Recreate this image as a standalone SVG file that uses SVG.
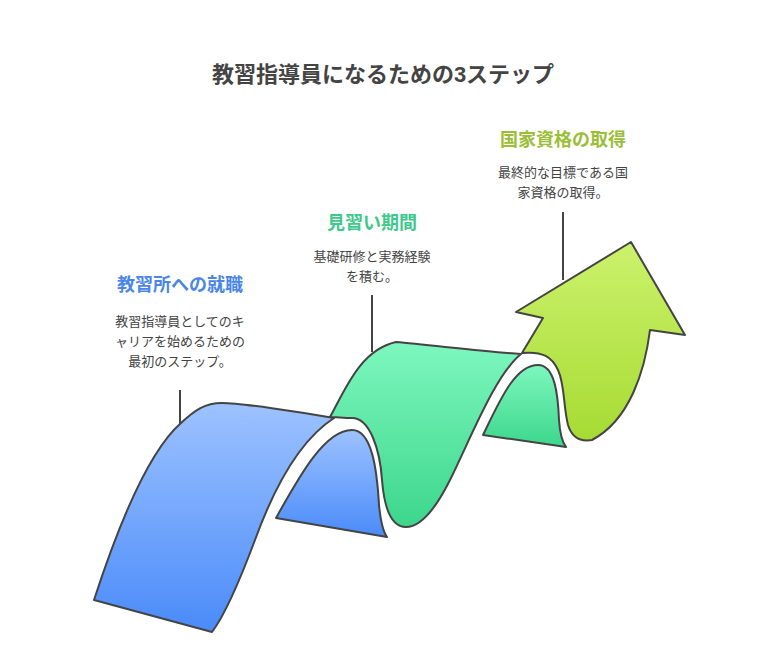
<svg xmlns="http://www.w3.org/2000/svg" width="767" height="657" viewBox="0 0 767 657">
<style>
.s{stroke:#444;stroke-width:2;stroke-linejoin:round}
.t{font-family:"Liberation Sans","Noto Sans CJK JP",sans-serif;text-anchor:middle}
.h{font-size:18px;font-weight:bold}
.d{font-size:13px;fill:#444}
</style>
<defs>
<linearGradient id="gb" x1="0" y1="0" x2="0" y2="1"><stop offset="0" stop-color="#9DC2FF"/><stop offset="1" stop-color="#4A8BF9"/></linearGradient>
<linearGradient id="gg" x1="0" y1="0" x2="0" y2="1"><stop offset="0" stop-color="#7DF7BE"/><stop offset="1" stop-color="#3DD68C"/></linearGradient>
<linearGradient id="gl" x1="0" y1="0" x2="0" y2="1"><stop offset="0" stop-color="#CCF26C"/><stop offset="1" stop-color="#A6DB33"/></linearGradient>
</defs>
<rect width="767" height="657" fill="#fff"/>
<text class="t" x="383" y="82" font-size="22" font-weight="bold" fill="#444">教習指導員になるための3ステップ</text>
<g id="connectors" stroke="#444" stroke-width="2">
<line x1="180" y1="390" x2="180" y2="425"/>
<line x1="372" y1="295" x2="372" y2="352"/>
<line x1="563" y1="212" x2="563" y2="280"/>
</g>
<g id="step1">
<path class="s" fill="url(#gb)" d="M276,518 C300,475 325,430 352,430 C372,430 377,470 379,505 C381,525 384,533 387,537 Z"/>
<path class="s" fill="url(#gb)" d="M94,600 C120,520 150,450 181,423 C195,410 205,403 222,403 C240,403 300,412 334,418 C300,440 275,485 255,540 C240,580 225,615 212,632 Z"/>
<text class="t h" x="180" y="291" fill="#4A86E8">教習所への就職</text>
<text class="t d" x="180" y="326">教習指導員としてのキ</text>
<text class="t d" x="180" y="346">ャリアを始めるための</text>
<text class="t d" x="180" y="366">最初のステップ。</text>
</g>
<g id="step2">
<path class="s" fill="url(#gg)" d="M483,435 C500,400 515,365 538,365 C555,365 558,395 559,420 C560,435 563,443 566,447 Z"/>
<path class="s" fill="url(#gg)" d="M330,417 C345,390 360,350 396,342 C430,345 490,352 521,354 C495,375 470,440 450,480 C435,510 420,527 406,527 C390,527 384,505 382,480 C380,450 370,418 352,418 C344,418 336,417 330,417 Z"/>
<text class="t h" x="372" y="229" fill="#3DC98A">見習い期間</text>
<text class="t d" x="372" y="261">基礎研修と実務経験</text>
<text class="t d" x="372" y="281">を積む。</text>
</g>
<g id="step3">
<path class="s" fill="url(#gl)" d="M522,353 L543,318 L516,312 L631,242 L685,335 L650,330 C645,370 630,420 592,440 C580,442 572,438 568,425 C563,405 565,385 558,370 C552,357 543,351 522,353 Z"/>
<text class="t h" x="563" y="146" fill="#9BBE37">国家資格の取得</text>
<text class="t d" x="563" y="177">最終的な目標である国</text>
<text class="t d" x="563" y="197">家資格の取得。</text>
</g>
</svg>
